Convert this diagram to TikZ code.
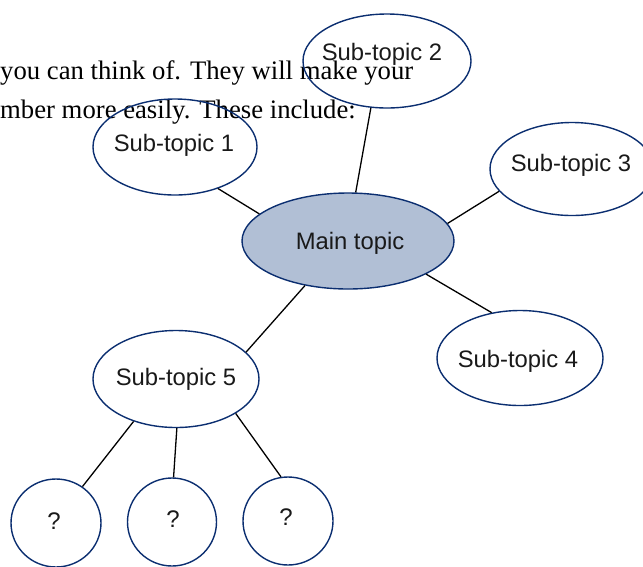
\documentclass[tikz,border=0pt]{standalone}
\usepackage{fontspec}
\setmainfont{Liberation Serif}
\newfontfamily\arialfont{Liberation Sans}
\usetikzlibrary{shapes.geometric}
\definecolor{outl}{HTML}{0B2E70}
\definecolor{mainfill}{HTML}{B1BFD5}
\tikzset{
  bubble/.style={ellipse, draw=outl, line width=1.4pt, inner sep=0pt},
  lbl/.style={font=\arialfont\fontsize{23.8}{26}\selectfont, text=black!90, inner sep=0pt},
  qlbl/.style={font=\arialfont\fontsize{24}{26}\selectfont, text=black!90, inner sep=0pt},
  bg/.style={font=\fontsize{26.7}{30}\selectfont, anchor=base west, inner sep=0pt},
  link/.style={line width=1.3pt, black}
}
\begin{document}
\begin{tikzpicture}[x=1pt,y=-1pt]
\useasboundingbox (0,0) rectangle (643,566);
\clip (0,0) rectangle (643,566);
% background text
\node[bg] (t1) at (0,79) {you can think of. They will make your};
\node[bg] (t2) at (0,118) {mber more easily. These include:};
% bubbles
\node[bubble, fill=mainfill, minimum width=212pt, minimum height=96pt] (main) at (348,241) {};
\node[lbl] (mainl) at (350,243) {Main topic};
\node[bubble, minimum width=168pt, minimum height=94pt] (s2) at (387,61) {};
\node[lbl] (s2l) at (382,54) {Sub-topic 2};
\node[bubble, minimum width=164pt, minimum height=96pt] (s1) at (175,147) {};
\node[lbl] (s1l) at (174,145) {Sub-topic 1};
\node[bubble, minimum width=164pt, minimum height=93pt] (s3) at (572,169) {};
\node[lbl] (s3l) at (571,165) {Sub-topic 3};
\node[bubble, minimum width=166pt, minimum height=95pt] (s4) at (520,358) {};
\node[lbl] (s4l) at (518,361) {Sub-topic 4};
\node[bubble, minimum width=166pt, minimum height=97pt] (s5) at (176,379) {};
\node[lbl] (s5l) at (176,379) {Sub-topic 5};
\node[bubble, minimum width=90pt, minimum height=88pt] (q1) at (56,523) {};
\node[qlbl] (q1l) at (54,521) {?};
\node[bubble, minimum width=89pt, minimum height=88pt] (q2) at (172,522) {};
\node[qlbl] (q2l) at (173,519) {?};
\node[bubble, minimum width=90pt, minimum height=88pt] (q3) at (288,521) {};
\node[qlbl] (q3l) at (286,517) {?};
% connectors
\draw[link] (s2.251.6) -- (main.81.9);
\draw[link] (s1.316) -- (main.163.8);
\draw[link] (s3.197) -- (main.10.4);
\draw[link] (s4.122.5) -- (main.337.2);
\draw[link] (s5.21.5) -- (main.226.3);
\draw[link] (s5.225.7) -- (q1.54.2);
\draw[link] (s5.271) -- (q2.88.7);
\draw[link] (s5.330) -- (q3.99.9);
\end{tikzpicture}
\end{document}
